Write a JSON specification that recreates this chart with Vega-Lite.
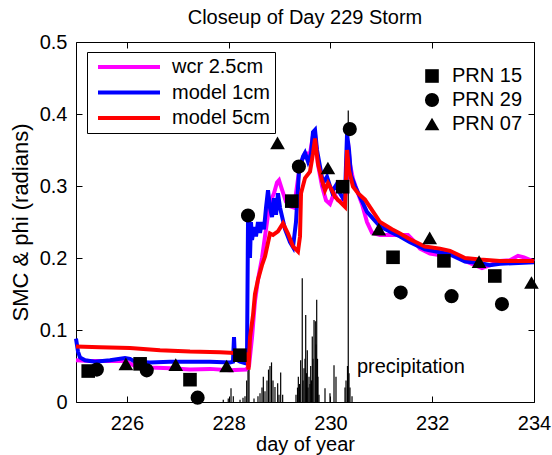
{
  "$schema": "https://vega.github.io/schema/vega-lite/v6.json",
  "width": 458,
  "height": 360,
  "autosize": "none",
  "padding": {"left": 76, "top": 42, "right": 18, "bottom": 53},
  "background": "white",
  "title": {"text": "Closeup of Day 229 Storm", "fontSize": 20, "font": "Liberation Sans", "fontWeight": "normal", "anchor": "middle", "frame": "group", "offset": 4, "color": "black"},
  "config": {
    "view": {"stroke": "black", "strokeWidth": 1},
    "font": "Liberation Sans",
    "axis": {"labelFont": "Liberation Sans", "labelFontSize": 20, "labelColor": "black", "titleFont": "Liberation Sans", "titleFontSize": 20, "titleFontWeight": "normal", "titleColor": "black", "grid": false, "domain": false, "tickColor": "black", "tickSize": -6, "labelPadding": 6, "labelFlush": false}
  },
  "datasets": {
    "precip": [
      {"day": 227.894, "p": 0.003}, {"day": 227.992, "p": 0.005}, {"day": 228.046, "p": 0.019}, {"day": 228.091, "p": 0.008},
      {"day": 228.223, "p": 0.003}, {"day": 228.282, "p": 0.006}, {"day": 228.321, "p": 0.008}, {"day": 228.354, "p": 0.03},
      {"day": 228.38, "p": 0.092}, {"day": 228.4, "p": 0.06}, {"day": 228.498, "p": 0.005}, {"day": 228.576, "p": 0.008},
      {"day": 228.616, "p": 0.012}, {"day": 228.655, "p": 0.02}, {"day": 228.681, "p": 0.035}, {"day": 228.714, "p": 0.015},
      {"day": 228.753, "p": 0.03}, {"day": 228.783, "p": 0.045}, {"day": 228.812, "p": 0.05}, {"day": 228.842, "p": 0.055},
      {"day": 228.871, "p": 0.03}, {"day": 228.91, "p": 0.021}, {"day": 228.963, "p": 0.026}, {"day": 228.989, "p": 0.01},
      {"day": 229.022, "p": 0.041}, {"day": 229.061, "p": 0.01}, {"day": 229.323, "p": 0.01}, {"day": 229.353, "p": 0.02},
      {"day": 229.369, "p": 0.035}, {"day": 229.392, "p": 0.025}, {"day": 229.415, "p": 0.058}, {"day": 229.446, "p": 0.172},
      {"day": 229.461, "p": 0.03}, {"day": 229.48, "p": 0.047}, {"day": 229.5, "p": 0.06}, {"day": 229.514, "p": 0.121},
      {"day": 229.53, "p": 0.04}, {"day": 229.545, "p": 0.072}, {"day": 229.559, "p": 0.02}, {"day": 229.579, "p": 0.035},
      {"day": 229.598, "p": 0.025}, {"day": 229.612, "p": 0.05}, {"day": 229.628, "p": 0.03}, {"day": 229.643, "p": 0.091},
      {"day": 229.657, "p": 0.06}, {"day": 229.677, "p": 0.114}, {"day": 229.703, "p": 0.112}, {"day": 229.716, "p": 0.08},
      {"day": 229.73, "p": 0.142}, {"day": 229.746, "p": 0.06}, {"day": 229.755, "p": 0.035}, {"day": 229.775, "p": 0.01},
      {"day": 229.893, "p": 0.019}, {"day": 229.991, "p": 0.012}, {"day": 230.07, "p": 0.051}, {"day": 230.109, "p": 0.035},
      {"day": 230.286, "p": 0.02}, {"day": 230.306, "p": 0.03}, {"day": 230.335, "p": 0.05}, {"day": 230.35, "p": 0.405},
      {"day": 230.365, "p": 0.04}, {"day": 230.384, "p": 0.02}, {"day": 230.424, "p": 0.008}
    ],
    "lines": [
      {"series": "wcr 2.5cm", "day": 225.0, "v": 0.058}, {"series": "wcr 2.5cm", "day": 225.275, "v": 0.057}, {"series": "wcr 2.5cm", "day": 225.668, "v": 0.057}, {"series": "wcr 2.5cm", "day": 225.963, "v": 0.057},
      {"series": "wcr 2.5cm", "day": 226.159, "v": 0.05}, {"series": "wcr 2.5cm", "day": 226.454, "v": 0.048}, {"series": "wcr 2.5cm", "day": 226.847, "v": 0.047}, {"series": "wcr 2.5cm", "day": 227.24, "v": 0.045},
      {"series": "wcr 2.5cm", "day": 227.633, "v": 0.046}, {"series": "wcr 2.5cm", "day": 228.026, "v": 0.044}, {"series": "wcr 2.5cm", "day": 228.341, "v": 0.045}, {"series": "wcr 2.5cm", "day": 228.4, "v": 0.05},
      {"series": "wcr 2.5cm", "day": 228.459, "v": 0.09}, {"series": "wcr 2.5cm", "day": 228.517, "v": 0.14}, {"series": "wcr 2.5cm", "day": 228.576, "v": 0.17}, {"series": "wcr 2.5cm", "day": 228.655, "v": 0.2},
      {"series": "wcr 2.5cm", "day": 228.714, "v": 0.23}, {"series": "wcr 2.5cm", "day": 228.773, "v": 0.26}, {"series": "wcr 2.5cm", "day": 228.832, "v": 0.28}, {"series": "wcr 2.5cm", "day": 228.891, "v": 0.29},
      {"series": "wcr 2.5cm", "day": 228.95, "v": 0.305}, {"series": "wcr 2.5cm", "day": 228.989, "v": 0.308}, {"series": "wcr 2.5cm", "day": 229.048, "v": 0.295}, {"series": "wcr 2.5cm", "day": 229.127, "v": 0.278},
      {"series": "wcr 2.5cm", "day": 229.205, "v": 0.272}, {"series": "wcr 2.5cm", "day": 229.284, "v": 0.27}, {"series": "wcr 2.5cm", "day": 229.343, "v": 0.3}, {"series": "wcr 2.5cm", "day": 229.402, "v": 0.33},
      {"series": "wcr 2.5cm", "day": 229.5, "v": 0.345}, {"series": "wcr 2.5cm", "day": 229.598, "v": 0.345}, {"series": "wcr 2.5cm", "day": 229.657, "v": 0.37}, {"series": "wcr 2.5cm", "day": 229.697, "v": 0.372},
      {"series": "wcr 2.5cm", "day": 229.755, "v": 0.33}, {"series": "wcr 2.5cm", "day": 229.834, "v": 0.3}, {"series": "wcr 2.5cm", "day": 229.913, "v": 0.28}, {"series": "wcr 2.5cm", "day": 229.991, "v": 0.275},
      {"series": "wcr 2.5cm", "day": 230.07, "v": 0.29}, {"series": "wcr 2.5cm", "day": 230.148, "v": 0.28}, {"series": "wcr 2.5cm", "day": 230.247, "v": 0.278}, {"series": "wcr 2.5cm", "day": 230.306, "v": 0.29},
      {"series": "wcr 2.5cm", "day": 230.345, "v": 0.36}, {"series": "wcr 2.5cm", "day": 230.384, "v": 0.33}, {"series": "wcr 2.5cm", "day": 230.443, "v": 0.31}, {"series": "wcr 2.5cm", "day": 230.541, "v": 0.29},
      {"series": "wcr 2.5cm", "day": 230.62, "v": 0.275}, {"series": "wcr 2.5cm", "day": 230.718, "v": 0.25}, {"series": "wcr 2.5cm", "day": 230.817, "v": 0.235}, {"series": "wcr 2.5cm", "day": 230.974, "v": 0.232},
      {"series": "wcr 2.5cm", "day": 231.268, "v": 0.232}, {"series": "wcr 2.5cm", "day": 231.524, "v": 0.232}, {"series": "wcr 2.5cm", "day": 231.622, "v": 0.225}, {"series": "wcr 2.5cm", "day": 231.76, "v": 0.213},
      {"series": "wcr 2.5cm", "day": 231.956, "v": 0.206}, {"series": "wcr 2.5cm", "day": 232.153, "v": 0.204}, {"series": "wcr 2.5cm", "day": 232.31, "v": 0.208}, {"series": "wcr 2.5cm", "day": 232.448, "v": 0.205},
      {"series": "wcr 2.5cm", "day": 232.644, "v": 0.196}, {"series": "wcr 2.5cm", "day": 232.841, "v": 0.19}, {"series": "wcr 2.5cm", "day": 232.978, "v": 0.186}, {"series": "wcr 2.5cm", "day": 233.135, "v": 0.19},
      {"series": "wcr 2.5cm", "day": 233.332, "v": 0.196}, {"series": "wcr 2.5cm", "day": 233.528, "v": 0.197}, {"series": "wcr 2.5cm", "day": 233.686, "v": 0.203}, {"series": "wcr 2.5cm", "day": 233.803, "v": 0.201},
      {"series": "wcr 2.5cm", "day": 234.0, "v": 0.195},

      {"series": "model 1cm", "day": 225.0, "v": 0.088}, {"series": "model 1cm", "day": 225.039, "v": 0.07}, {"series": "model 1cm", "day": 225.079, "v": 0.062}, {"series": "model 1cm", "day": 225.177, "v": 0.058},
      {"series": "model 1cm", "day": 225.373, "v": 0.056}, {"series": "model 1cm", "day": 225.668, "v": 0.058}, {"series": "model 1cm", "day": 225.963, "v": 0.061}, {"series": "model 1cm", "day": 226.061, "v": 0.06},
      {"series": "model 1cm", "day": 226.159, "v": 0.056}, {"series": "model 1cm", "day": 226.454, "v": 0.055}, {"series": "model 1cm", "day": 226.847, "v": 0.056}, {"series": "model 1cm", "day": 227.24, "v": 0.056},
      {"series": "model 1cm", "day": 227.633, "v": 0.056}, {"series": "model 1cm", "day": 228.026, "v": 0.055}, {"series": "model 1cm", "day": 228.085, "v": 0.056}, {"series": "model 1cm", "day": 228.105, "v": 0.09},
      {"series": "model 1cm", "day": 228.124, "v": 0.06}, {"series": "model 1cm", "day": 228.223, "v": 0.056}, {"series": "model 1cm", "day": 228.321, "v": 0.054}, {"series": "model 1cm", "day": 228.36, "v": 0.06},
      {"series": "model 1cm", "day": 228.38, "v": 0.25}, {"series": "model 1cm", "day": 228.4, "v": 0.24}, {"series": "model 1cm", "day": 228.419, "v": 0.2}, {"series": "model 1cm", "day": 228.439, "v": 0.25},
      {"series": "model 1cm", "day": 228.459, "v": 0.225}, {"series": "model 1cm", "day": 228.498, "v": 0.243}, {"series": "model 1cm", "day": 228.537, "v": 0.23}, {"series": "model 1cm", "day": 228.576, "v": 0.25},
      {"series": "model 1cm", "day": 228.616, "v": 0.235}, {"series": "model 1cm", "day": 228.655, "v": 0.25}, {"series": "model 1cm", "day": 228.694, "v": 0.24}, {"series": "model 1cm", "day": 228.734, "v": 0.27},
      {"series": "model 1cm", "day": 228.773, "v": 0.294}, {"series": "model 1cm", "day": 228.812, "v": 0.27}, {"series": "model 1cm", "day": 228.852, "v": 0.257}, {"series": "model 1cm", "day": 228.891, "v": 0.283},
      {"series": "model 1cm", "day": 228.93, "v": 0.26}, {"series": "model 1cm", "day": 228.969, "v": 0.29}, {"series": "model 1cm", "day": 229.009, "v": 0.27}, {"series": "model 1cm", "day": 229.107, "v": 0.24},
      {"series": "model 1cm", "day": 229.205, "v": 0.222}, {"series": "model 1cm", "day": 229.264, "v": 0.215}, {"series": "model 1cm", "day": 229.323, "v": 0.25}, {"series": "model 1cm", "day": 229.382, "v": 0.32},
      {"series": "model 1cm", "day": 229.461, "v": 0.341}, {"series": "model 1cm", "day": 229.5, "v": 0.346}, {"series": "model 1cm", "day": 229.559, "v": 0.334}, {"series": "model 1cm", "day": 229.618, "v": 0.345},
      {"series": "model 1cm", "day": 229.657, "v": 0.375}, {"series": "model 1cm", "day": 229.697, "v": 0.378}, {"series": "model 1cm", "day": 229.736, "v": 0.35}, {"series": "model 1cm", "day": 229.795, "v": 0.327},
      {"series": "model 1cm", "day": 229.854, "v": 0.304}, {"series": "model 1cm", "day": 229.932, "v": 0.313}, {"series": "model 1cm", "day": 229.991, "v": 0.3}, {"series": "model 1cm", "day": 230.03, "v": 0.292},
      {"series": "model 1cm", "day": 230.109, "v": 0.301}, {"series": "model 1cm", "day": 230.188, "v": 0.29}, {"series": "model 1cm", "day": 230.247, "v": 0.283}, {"series": "model 1cm", "day": 230.286, "v": 0.285},
      {"series": "model 1cm", "day": 230.306, "v": 0.33}, {"series": "model 1cm", "day": 230.326, "v": 0.372}, {"series": "model 1cm", "day": 230.365, "v": 0.35}, {"series": "model 1cm", "day": 230.404, "v": 0.315},
      {"series": "model 1cm", "day": 230.482, "v": 0.3}, {"series": "model 1cm", "day": 230.581, "v": 0.285}, {"series": "model 1cm", "day": 230.718, "v": 0.264}, {"series": "model 1cm", "day": 230.974, "v": 0.244},
      {"series": "model 1cm", "day": 231.209, "v": 0.235}, {"series": "model 1cm", "day": 231.367, "v": 0.23}, {"series": "model 1cm", "day": 231.563, "v": 0.222}, {"series": "model 1cm", "day": 231.858, "v": 0.212},
      {"series": "model 1cm", "day": 232.153, "v": 0.208}, {"series": "model 1cm", "day": 232.349, "v": 0.205}, {"series": "model 1cm", "day": 232.644, "v": 0.195}, {"series": "model 1cm", "day": 232.939, "v": 0.193},
      {"series": "model 1cm", "day": 233.135, "v": 0.19}, {"series": "model 1cm", "day": 233.332, "v": 0.192}, {"series": "model 1cm", "day": 234.0, "v": 0.194},

      {"series": "model 5cm", "day": 225.0, "v": 0.077}, {"series": "model 5cm", "day": 225.472, "v": 0.076}, {"series": "model 5cm", "day": 226.061, "v": 0.075}, {"series": "model 5cm", "day": 226.651, "v": 0.072},
      {"series": "model 5cm", "day": 227.24, "v": 0.07}, {"series": "model 5cm", "day": 227.83, "v": 0.069}, {"series": "model 5cm", "day": 228.124, "v": 0.068}, {"series": "model 5cm", "day": 228.3, "v": 0.067},
      {"series": "model 5cm", "day": 228.36, "v": 0.066}, {"series": "model 5cm", "day": 228.39, "v": 0.045}, {"series": "model 5cm", "day": 228.42, "v": 0.09}, {"series": "model 5cm", "day": 228.478, "v": 0.12},
      {"series": "model 5cm", "day": 228.517, "v": 0.15}, {"series": "model 5cm", "day": 228.576, "v": 0.17}, {"series": "model 5cm", "day": 228.655, "v": 0.19}, {"series": "model 5cm", "day": 228.714, "v": 0.202},
      {"series": "model 5cm", "day": 228.812, "v": 0.234}, {"series": "model 5cm", "day": 228.871, "v": 0.232}, {"series": "model 5cm", "day": 228.969, "v": 0.237}, {"series": "model 5cm", "day": 229.068, "v": 0.248},
      {"series": "model 5cm", "day": 229.166, "v": 0.234}, {"series": "model 5cm", "day": 229.264, "v": 0.216}, {"series": "model 5cm", "day": 229.362, "v": 0.209}, {"series": "model 5cm", "day": 229.402, "v": 0.23},
      {"series": "model 5cm", "day": 229.422, "v": 0.29}, {"series": "model 5cm", "day": 229.5, "v": 0.311}, {"series": "model 5cm", "day": 229.598, "v": 0.32}, {"series": "model 5cm", "day": 229.657, "v": 0.345},
      {"series": "model 5cm", "day": 229.697, "v": 0.366}, {"series": "model 5cm", "day": 229.755, "v": 0.331}, {"series": "model 5cm", "day": 229.834, "v": 0.308}, {"series": "model 5cm", "day": 229.893, "v": 0.294},
      {"series": "model 5cm", "day": 229.952, "v": 0.304}, {"series": "model 5cm", "day": 230.03, "v": 0.294}, {"series": "model 5cm", "day": 230.089, "v": 0.285}, {"series": "model 5cm", "day": 230.188, "v": 0.278},
      {"series": "model 5cm", "day": 230.286, "v": 0.271}, {"series": "model 5cm", "day": 230.326, "v": 0.35}, {"series": "model 5cm", "day": 230.365, "v": 0.322}, {"series": "model 5cm", "day": 230.443, "v": 0.299},
      {"series": "model 5cm", "day": 230.541, "v": 0.29}, {"series": "model 5cm", "day": 230.679, "v": 0.281}, {"series": "model 5cm", "day": 230.974, "v": 0.25}, {"series": "model 5cm", "day": 231.209, "v": 0.24},
      {"series": "model 5cm", "day": 231.367, "v": 0.234}, {"series": "model 5cm", "day": 231.563, "v": 0.226}, {"series": "model 5cm", "day": 231.858, "v": 0.216}, {"series": "model 5cm", "day": 232.153, "v": 0.213},
      {"series": "model 5cm", "day": 232.349, "v": 0.21}, {"series": "model 5cm", "day": 232.644, "v": 0.2}, {"series": "model 5cm", "day": 232.939, "v": 0.198}, {"series": "model 5cm", "day": 233.332, "v": 0.196},
      {"series": "model 5cm", "day": 234.0, "v": 0.196}
    ],
    "points": [
      {"prn": "PRN 15", "day": 225.24, "v": 0.043}, {"prn": "PRN 15", "day": 226.26, "v": 0.053}, {"prn": "PRN 15", "day": 227.24, "v": 0.031},
      {"prn": "PRN 15", "day": 228.22, "v": 0.065}, {"prn": "PRN 15", "day": 229.24, "v": 0.279}, {"prn": "PRN 15", "day": 230.24, "v": 0.299},
      {"prn": "PRN 15", "day": 231.23, "v": 0.201}, {"prn": "PRN 15", "day": 232.23, "v": 0.196}, {"prn": "PRN 15", "day": 233.23, "v": 0.175},
      {"prn": "PRN 29", "day": 225.41, "v": 0.045}, {"prn": "PRN 29", "day": 226.39, "v": 0.044}, {"prn": "PRN 29", "day": 227.39, "v": 0.006},
      {"prn": "PRN 29", "day": 228.38, "v": 0.259}, {"prn": "PRN 29", "day": 229.38, "v": 0.327}, {"prn": "PRN 29", "day": 230.38, "v": 0.379},
      {"prn": "PRN 29", "day": 231.38, "v": 0.152}, {"prn": "PRN 29", "day": 232.38, "v": 0.147}, {"prn": "PRN 29", "day": 233.37, "v": 0.136},
      {"prn": "PRN 07", "day": 225.98, "v": 0.053}, {"prn": "PRN 07", "day": 226.96, "v": 0.052}, {"prn": "PRN 07", "day": 227.96, "v": 0.05},
      {"prn": "PRN 07", "day": 228.96, "v": 0.36}, {"prn": "PRN 07", "day": 229.95, "v": 0.325}, {"prn": "PRN 07", "day": 230.95, "v": 0.24},
      {"prn": "PRN 07", "day": 231.95, "v": 0.228}, {"prn": "PRN 07", "day": 232.92, "v": 0.195}, {"prn": "PRN 07", "day": 233.95, "v": 0.166}
    ],
    "notes": [{"label": "precipitation", "day": 230.52, "v": 0.04}]
  },
  "layer": [
    {
      "data": {"name": "precip"},
      "mark": {"type": "rule", "color": "black", "strokeWidth": 1.2},
      "encoding": {
        "x": {"field": "day", "type": "quantitative", "scale": {"domain": [225, 234], "nice": false, "zero": false},
              "axis": {"orient": "bottom", "values": [226, 228, 230, 232, 234], "title": "day of year", "titlePadding": 1, "labelPadding": 17}},
        "y": {"field": "p", "type": "quantitative", "scale": {"domain": [0, 0.5], "nice": false},
              "axis": {"orient": "left", "values": [0, 0.1, 0.2, 0.3, 0.4, 0.5], "title": "SMC & phi (radians)", "titleFontSize": 22, "titlePadding": 7, "labelPadding": 15,
                       "labelExpr": "datum.value == 0 ? '0' : format(datum.value, '.1f')"}},
        "y2": {"datum": 0}
      }
    },
    {
      "data": {"name": "lines"},
      "mark": {"type": "line", "strokeWidth": 4},
      "encoding": {
        "x": {"field": "day", "type": "quantitative", "scale": {"domain": [225, 234], "nice": false, "zero": false},
              "axis": {"orient": "top", "values": [226, 228, 230, 232, 234], "labels": false, "title": null}},
        "y": {"field": "v", "type": "quantitative", "scale": {"domain": [0, 0.5], "nice": false},
              "axis": {"orient": "right", "values": [0, 0.1, 0.2, 0.3, 0.4, 0.5], "labels": false, "title": null}},
        "color": {"field": "series", "type": "nominal",
                  "scale": {"domain": ["wcr 2.5cm", "model 1cm", "model 5cm"], "range": ["#ff00ff", "#0000ff", "#ff0000"]},
                  "legend": {"title": null, "orient": "none", "legendX": 11, "legendY": 10, "symbolType": "stroke", "symbolSize": 3844,
                             "symbolStrokeWidth": 4, "clipHeight": 20, "rowPadding": 5.5, "padding": 5, "symbolOffset": 4, "labelOffset": 10,
                             "labelFontSize": 20, "labelFont": "Liberation Sans", "labelColor": "black", "strokeColor": "black",
                             "fillColor": "white", "labelLimit": 300}}
      }
    },
    {
      "data": {"name": "points"},
      "mark": {"type": "point", "filled": true, "opacity": 1, "color": "black"},
      "encoding": {
        "x": {"field": "day", "type": "quantitative", "axis": null},
        "y": {"field": "v", "type": "quantitative", "axis": null},
        "shape": {"field": "prn", "type": "nominal",
                  "scale": {"domain": ["PRN 15", "PRN 29", "PRN 07"], "range": ["square", "circle", "triangle-up"]},
                  "legend": {"title": null, "orient": "none", "legendX": 346, "legendY": 24,
                             "symbolFillColor": "black", "symbolStrokeColor": "black", "labelOffset": 10, "rowPadding": 3,
                             "padding": 0, "labelFontSize": 20, "labelFont": "Liberation Sans", "labelColor": "black"}},
        "size": {"field": "prn", "type": "nominal",
                 "scale": {"domain": ["PRN 15", "PRN 29", "PRN 07"], "range": [185, 215, 270]}}
      }
    },
    {
      "data": {"name": "notes"},
      "mark": {"type": "text", "align": "left", "baseline": "alphabetic", "fontSize": 20, "font": "Liberation Sans", "color": "black"},
      "encoding": {
        "x": {"field": "day", "type": "quantitative", "axis": null},
        "y": {"field": "v", "type": "quantitative", "axis": null},
        "text": {"field": "label"}
      }
    }
  ],
  "resolve": {"axis": {"x": "independent", "y": "independent"}}
}
